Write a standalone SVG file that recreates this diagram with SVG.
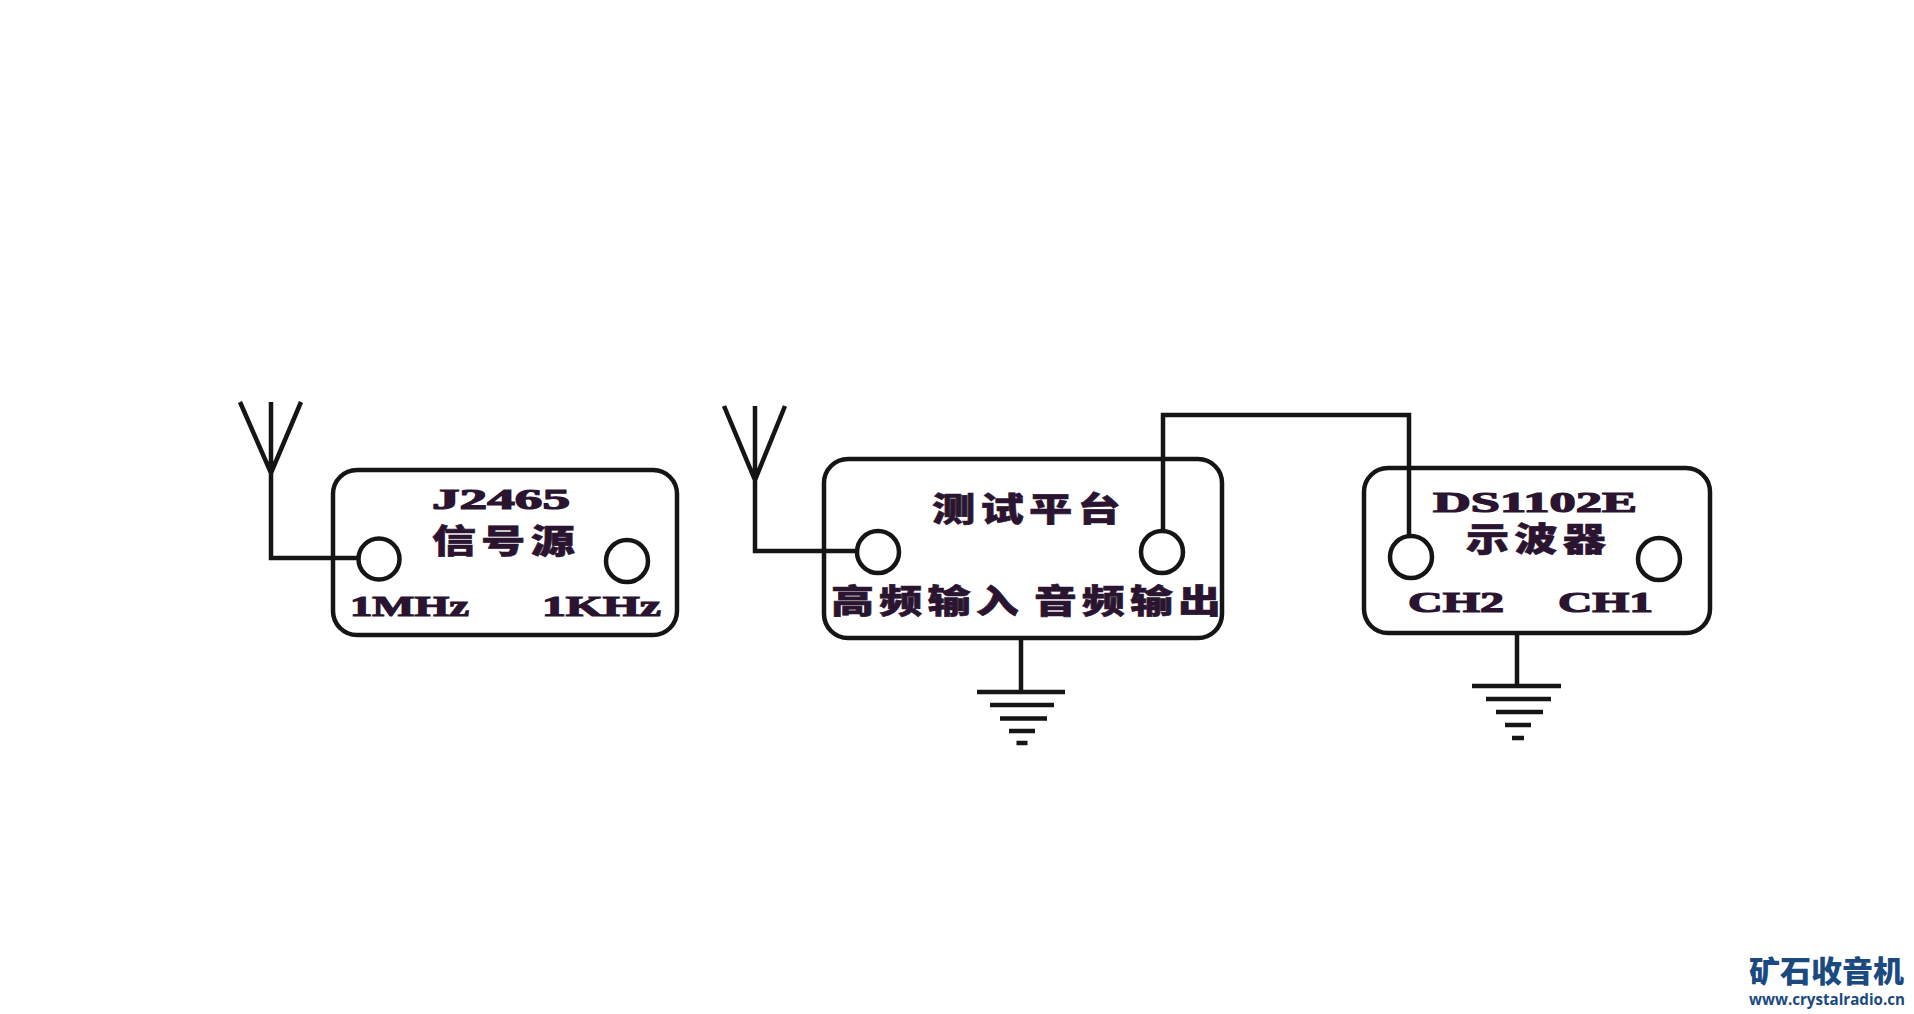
<svg xmlns="http://www.w3.org/2000/svg" width="1914" height="1014" viewBox="0 0 1914 1014">
<style>
.box{fill:none;stroke:#151515;stroke-width:4.500}
.port{fill:#fff;stroke:#151515;stroke-width:4.500}
.wire{fill:none;stroke:#151515;stroke-width:4.500}
.gnd{fill:none;stroke:#151515;stroke-width:4.500}
.en{font-family:"Liberation Serif",serif;font-weight:700;fill:#2a1430;stroke:#2a1430;stroke-width:1.200}
.cn{font-family:"Noto Sans CJK SC",sans-serif;font-weight:900;fill:#2a1430;stroke:#2a1430;stroke-width:.6;font-size:33px;letter-spacing:4px}
.logo{font-family:"Noto Sans CJK SC",sans-serif;font-weight:900;fill:#1b4a80}
.url{font-family:"Open Sans",sans-serif;font-weight:700;fill:#1b4a80}
</style>
<rect width="1914" height="1014" fill="#fff"/>
<g id="connectors">
<path class="wire" d="M240 402L271 473L301 402M271 402V558H360"/>
<path class="wire" d="M724 406L755 480L785 406M755 406V551H858"/>
<path class="wire" d="M1163 532V415H1409V537"/>
<path class="gnd" d="M1021 638V692M977 692H1065M990 705H1054M1000 718.500H1047M1009 731H1035M1016.500 743H1027.500"/>
<path class="gnd" d="M1517 633V686M1472 686H1561M1486 699H1551M1496 712H1543M1505 725H1531M1512 738H1524"/>
</g>
<g id="node-signal-source">
<rect class="box" x="333" y="470" width="344" height="165" rx="24"/>
<circle class="port" cx="379" cy="559" r="20.500"/>
<circle class="port" cx="627" cy="561" r="21"/>
<text class="en" x="432" y="509" font-size="29" textLength="138" lengthAdjust="spacingAndGlyphs">J2465</text>
<text class="cn" x="432" y="553" textLength="148" lengthAdjust="spacingAndGlyphs">信号源</text>
<text class="en" x="350" y="616" font-size="29" textLength="119" lengthAdjust="spacingAndGlyphs">1MHz</text>
<text class="en" x="542" y="616" font-size="29" textLength="119" lengthAdjust="spacingAndGlyphs">1KHz</text>
</g>
<g id="node-test-platform">
<rect class="box" x="824" y="459" width="398" height="179" rx="24"/>
<circle class="port" cx="878" cy="552" r="21"/>
<circle class="port" cx="1162" cy="552" r="21"/>
<text class="cn" x="932" y="521" textLength="194" lengthAdjust="spacingAndGlyphs">测试平台</text>
<text class="cn" x="831" y="613" textLength="193" lengthAdjust="spacingAndGlyphs">高频输入</text>
<text class="cn" x="1034" y="613" textLength="192" lengthAdjust="spacingAndGlyphs">音频输出</text>
</g>
<g id="node-oscilloscope">
<rect class="box" x="1364" y="468" width="346" height="165" rx="24"/>
<circle class="port" cx="1411" cy="557" r="21"/>
<circle class="port" cx="1659" cy="559" r="21"/>
<text class="en" x="1433" y="512" font-size="29" textLength="204" lengthAdjust="spacingAndGlyphs">DS1102E</text>
<text class="cn" x="1466" y="551" textLength="145" lengthAdjust="spacingAndGlyphs">示波器</text>
<text class="en" x="1408" y="612" font-size="29" textLength="96" lengthAdjust="spacingAndGlyphs">CH2</text>
<text class="en" x="1558" y="612" font-size="29" textLength="95" lengthAdjust="spacingAndGlyphs">CH1</text>
</g>
<g id="logo">
<text class="logo" x="1749" y="982" font-size="30" textLength="155" lengthAdjust="spacingAndGlyphs">矿石收音机</text>
<text class="url" x="1749" y="1005" font-size="16" textLength="156" lengthAdjust="spacingAndGlyphs">www.crystalradio.cn</text>
</g>
</svg>
